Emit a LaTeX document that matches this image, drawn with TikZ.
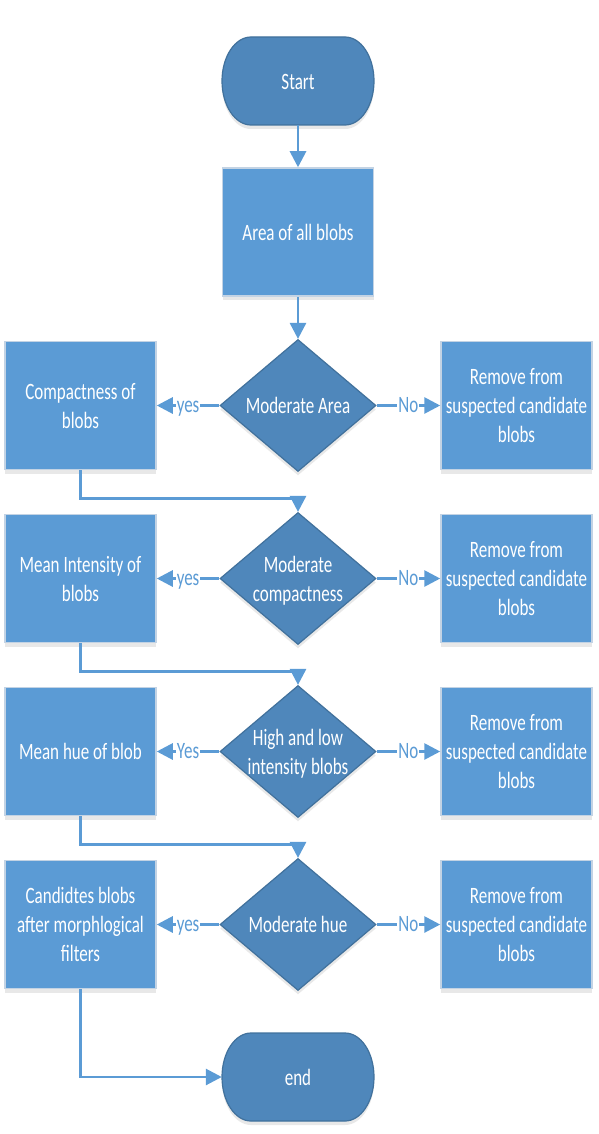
\documentclass[tikz,border=0pt]{standalone}
\usepackage{fontspec}
\setmainfont{Carlito}
\usepackage{graphicx}
\usetikzlibrary{shapes.geometric,arrows.meta,shadows}
\definecolor{boxblue}{HTML}{5B9BD5}
\definecolor{boxedge}{HTML}{C3D3E4}
\definecolor{darkblue}{HTML}{4F87BB}
\definecolor{darkedge}{HTML}{41719C}
\newcommand\lbl[1]{\scalebox{1}[1.38]{\fontsize{17}{21}\selectfont\begin{tabular}{@{}c@{}}#1\end{tabular}}}
\tikzset{
  shad/.style={drop shadow={shadow xshift=0pt,shadow yshift=-4pt,opacity=0.15,fill=black!60}},
  procbox/.style={rectangle,fill=boxblue,draw=boxedge,line width=1.5pt,minimum width=151pt,minimum height=128pt,inner sep=0pt,shad},
  decision/.style={diamond,fill=darkblue,draw=darkedge,line width=1.2pt,minimum width=156pt,minimum height=132pt,inner sep=0pt,shad},
  termframe/.style={rectangle,draw=none,minimum width=152pt,minimum height=88pt,inner sep=0pt},
  termpath/.style={fill=darkblue,draw=darkedge,line width=1.2pt,shad},
  txt/.style={text=white,inner sep=0pt,align=center,yshift=-2.5pt},
  arr/.style={draw=boxblue,line width=2.8pt,-{Triangle[length=16pt,width=16pt]}},
  tag/.style={fill=white,text=boxblue,inner sep=1pt,yshift=-1.5pt}
}
\newcommand\terminal[4]{%
  \path[termpath,shift={(#2,#3)}] (-47,44) -- (47,44)
    arc[start angle=90,end angle=-90,x radius=29pt,y radius=44pt]
    -- (-47,-44)
    arc[start angle=270,end angle=90,x radius=29pt,y radius=44pt] -- cycle;
  \node[termframe] (#1) at (#2,#3) {};
  \node[txt] at (#1) {\lbl{#4}};
}
\begin{document}
\begin{tikzpicture}[x=1pt,y=1pt]
\useasboundingbox (0,0) rectangle (598,-1134);
\terminal{start}{298}{-81}{Start}
\node[procbox] (area) at (298,-232) {};
\node[txt] at (area) {\lbl{Area of all blobs}};
% rows
\foreach \r/\yy in {1/-405.5,2/-578.5,3/-751.5,4/-924.5}{
  \node[decision] (d\r) at (298,\yy) {};
  \node[procbox] (L\r) at (80.5,\yy) {};
  \node[procbox] (R\r) at (516.5,\yy) {};
  \node[txt] at (R\r) {\lbl{Remove from\\suspected candidate\\blobs}};
}
\node[txt] at (d1) {\lbl{Moderate Area}};
\node[txt] at (d2) {\lbl{Moderate\\compactness}};
\node[txt] at (d3) {\lbl{High and low\\intensity blobs}};
\node[txt] at (d4) {\lbl{Moderate hue}};
\node[txt] at (L1) {\lbl{Compactness of\\blobs}};
\node[txt] at (L2) {\lbl{Mean Intensity of\\blobs}};
\node[txt] at (L3) {\lbl{Mean hue of blob}};
\node[txt] at (L4) {\lbl{Candidtes blobs\\after morphlogical\\filters}};
\terminal{end}{298}{-1077}{end}
% connectors
\draw[arr] (start.south) -- (area.north);
\draw[arr] (area.south) -- (d1.north);
\foreach \r/\yw in {1/yes,2/yes,3/Yes,4/yes}{
  \draw[arr] (d\r.west) -- node[tag]{\lbl{\yw}} (L\r.east);
  \draw[arr] (d\r.east) -- node[tag]{\lbl{No}} (R\r.west);
}
\draw[arr] (L1.south) -- ++(0,-28) -| (d2.north);
\draw[arr] (L2.south) -- ++(0,-28) -| (d3.north);
\draw[arr] (L3.south) -- ++(0,-28) -| (d4.north);
\draw[arr] (L4.south) |- (end.west);
\end{tikzpicture}
\end{document}
